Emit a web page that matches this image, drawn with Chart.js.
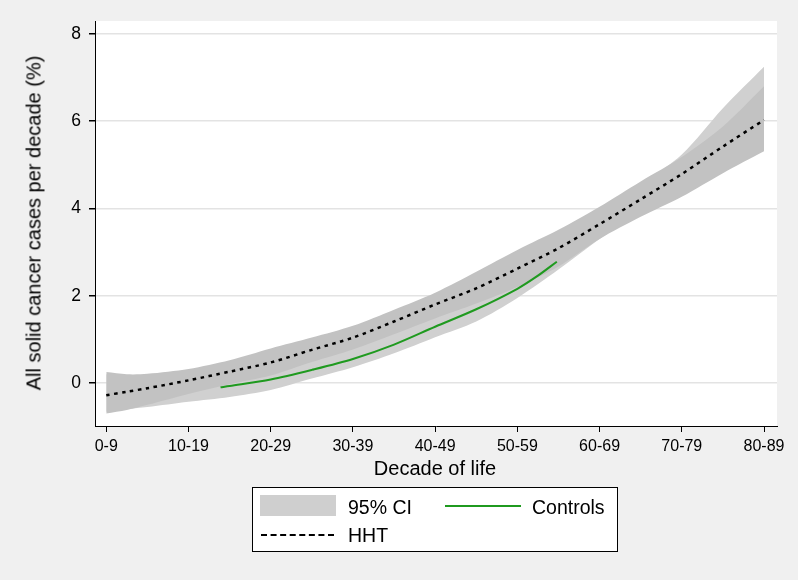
<!DOCTYPE html>
<html lang="en">
<head>
    <meta charset="UTF-8">
    <title>Solid cancer cases per decade</title>
    <style>
        body {
            margin: 0;
            padding: 0;
            background-color: #f0f0f0;
            font-family: Arial, 'Liberation Sans', sans-serif;
        }

        #wrap {
            position: relative;
            width: 798px;
            height: 580px;
        }

        /* Axis titles */
        .ytitle {
            position: absolute;
            left: 34px;
            top: 223px;
            transform: translate(-50%, -50%) rotate(-90deg);
            font-size: 20px;
            color: #000;
            white-space: nowrap;
        }

        .xtitle {
            position: absolute;
            left: 435px;
            top: 468px;
            transform: translate(-50%, -50%);
            font-size: 20px;
            color: #000;
            white-space: nowrap;
        }

        /* Legend box */
        .legend {
            position: absolute;
            left: 252px;
            top: 487px;
            width: 364px;
            height: 63px;
            background: #fff;
            border: 1px solid #000;
            font-size: 19.5px;
        }

        .legend span {
            position: absolute;
            transform: translateY(-50%);
            white-space: nowrap;
        }

        .swatch {
            position: absolute;
            left: 7px;
            top: 7px;
            width: 76px;
            height: 21px;
            background: #cfcfcf;
        }

        .green-key {
            position: absolute;
            left: 192px;
            top: 17px;
            width: 76px;
            border-top: 2px solid #1f9a1f;
        }

        .dot-key {
            position: absolute;
            left: 8px;
            top: 46px;
            width: 73px;
            border-top: 2px dashed #000;
        }
    </style>
</head>
<body>
    <div id="wrap">
        <canvas id="chart"></canvas>
        <div class="ytitle">All solid cancer cases per decade (%)</div>
        <div class="xtitle">Decade of life</div>
        <div class="legend">
            <div class="swatch"></div>
            <span style="left:95px; top:19px;">95% CI</span>
            <div class="green-key"></div>
            <span style="left:279px; top:19px;">Controls</span>
            <div class="dot-key"></div>
            <span style="left:95px; top:47px;">HHT</span>
        </div>
    </div>

    <script src="https://cdn.jsdelivr.net/npm/chart.js"></script>
    <script>
        // Decade categories (tick positions 0..8)
        const decades = ["0-9", "10-19", "20-29", "30-39", "40-49", "50-59", "60-69", "70-79", "80-89"];
        const yTicks = [0, 2, 4, 6, 8];

        // HHT fitted curve and its 95% CI
        const bandX  = [0, 0.25, 0.5, 1, 1.5, 2, 2.5, 3, 3.5, 4, 4.5, 5, 5.5, 6, 6.5, 7, 7.5, 8];
        const hhtFit = [-0.28, -0.20, -0.12, 0.06, 0.26, 0.47, 0.76, 1.04, 1.41, 1.80, 2.17, 2.62, 3.09, 3.64, 4.21, 4.79, 5.42, 6.03];
        const hhtHi  = [0.25, 0.20, 0.21, 0.32, 0.52, 0.79, 1.04, 1.31, 1.68, 2.07, 2.55, 3.05, 3.51, 4.04, 4.62, 5.18, 5.88, 6.80];
        const hhtLo  = [-0.70, -0.62, -0.50, -0.25, -0.03, 0.17, 0.48, 0.77, 1.12, 1.48, 1.82, 2.20, 2.67, 3.30, 3.81, 4.27, 4.81, 5.31];

        // Controls 95% CI (lighter band)
        const ctlHi  = [0.20, 0.15, 0.15, 0.25, 0.45, 0.70, 0.95, 1.20, 1.55, 1.95, 2.40, 2.90, 3.40, 3.95, 4.55, 5.24, 6.30, 7.25];
        const ctlLo  = [-0.66, -0.60, -0.55, -0.43, -0.32, -0.16, 0.10, 0.36, 0.68, 1.05, 1.41, 1.95, 2.60, 3.30, 3.95, 4.50, 5.00, 5.60];

        // Controls fitted curve
        const ctlX   = [1.39, 1.5, 2, 2.5, 3, 3.5, 4, 4.5, 5, 5.25, 5.48];
        const ctlFit = [-0.10, -0.07, 0.08, 0.30, 0.55, 0.88, 1.29, 1.69, 2.16, 2.46, 2.78];

        const pts = (xs, ys) => xs.map((x, i) => ({ x: x, y: ys[i] }));

        const LIGHT = "#d0d0d0";
        const DARK = "#c2c2c2";

        // white plot region on the grey page
        const plotBackground = {
            id: "plotBackground",
            beforeDraw(chart) {
                const a = chart.chartArea;
                const c = chart.ctx;
                c.save();
                c.fillStyle = "#fff";
                c.fillRect(a.left, a.top, a.right - a.left, a.bottom - a.top);
                c.restore();
            }
        };

        const band = (data, color, fill, order) => ({
            data: data,
            borderWidth: 0,
            borderColor: color,
            backgroundColor: color,
            pointRadius: 0,
            fill: fill,
            tension: 0.3,
            order: order
        });

        const ctx = document.getElementById("chart").getContext("2d");
        const chart = new Chart(ctx, {
            type: "line",
            data: {
                datasets: [
                    band(pts(bandX, ctlLo), LIGHT, false, 6),
                    band(pts(bandX, ctlHi), LIGHT, 0, 5),
                    band(pts(bandX, hhtLo), DARK, false, 4),
                    band(pts(bandX, hhtHi), DARK, 2, 3),
                    {
                        label: "Controls",
                        data: pts(ctlX, ctlFit),
                        borderColor: "#1f9a1f",
                        borderWidth: 2,
                        pointRadius: 0,
                        fill: false,
                        tension: 0.3,
                        order: 2
                    },
                    {
                        label: "HHT",
                        data: pts(bandX, hhtFit),
                        borderColor: "#000",
                        borderWidth: 2.5,
                        borderDash: [3.5, 4.5],
                        pointRadius: 0,
                        fill: false,
                        tension: 0.3,
                        order: 1
                    }
                ]
            },
            options: {
                responsive: true,
                maintainAspectRatio: false,
                animation: false,
                layout: { padding: { top: 21, right: 21, left: 0, bottom: 0 } },
                plugins: {
                    legend: { display: false },
                    tooltip: { enabled: false }
                },
                scales: {
                    x: {
                        type: "linear",
                        min: -0.137,
                        max: 8.158,
                        afterBuildTicks: s => { s.ticks = decades.map((d, i) => ({ value: i })); },
                        afterFit: s => { s.height = 154; },
                        grid: { drawOnChartArea: false, tickColor: "#000", tickLength: 6 },
                        border: { color: "#000", width: 1 },
                        ticks: {
                            color: "#000",
                            font: { family: "Arial, 'Liberation Sans'", size: 16 },
                            padding: 5,
                            maxRotation: 0,
                            autoSkip: false,
                            callback: v => decades[v]
                        }
                    },
                    y: {
                        min: -0.986,
                        max: 8.298,
                        afterBuildTicks: s => { s.ticks = yTicks.map(v => ({ value: v })); },
                        afterFit: s => { s.width = 95; },
                        grid: { color: "#e3e3e3", lineWidth: 1.5, tickColor: "#000", tickLength: 6 },
                        border: { color: "#000", width: 1 },
                        ticks: {
                            color: "#000",
                            font: { family: "Arial, 'Liberation Sans'", size: 17.5 },
                            padding: 8
                        }
                    }
                }
            },
            plugins: [plotBackground]
        });
    </script>
</body>
</html>
